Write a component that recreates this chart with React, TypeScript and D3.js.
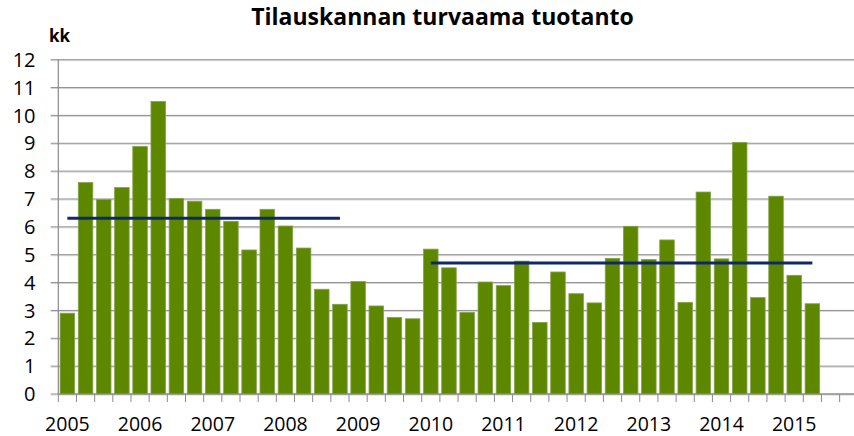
import React from "react";
import * as d3 from "d3";

const title = "Tilauskannan turvaama tuotanto";
const unitLabel = "kk";
const yearLabels = ["2005", "2006", "2007", "2008", "2009", "2010", "2011", "2012", "2013", "2014", "2015"];
const quarters = ["Q1", "Q2", "Q3", "Q4"];
// quarterly values 2005 Q1 .. 2015 Q2
const values = [
  2.9, 7.59, 6.98, 7.41,
  8.89, 10.5, 7.02, 6.92,
  6.63, 6.2, 5.17, 6.63,
  6.03, 5.24, 3.76, 3.22,
  4.04, 3.16, 2.75, 2.7,
  5.2, 4.53, 2.93, 4.02,
  3.89, 4.77, 2.57, 4.38,
  3.6, 3.27, 4.87, 6.02,
  4.83, 5.53, 3.29, 7.25,
  4.85, 9.03, 3.46, 7.1,
  4.26, 3.24,
];
// period averages (line series)
const avg1Value = 6.31;
const avg1Range = [0, 15];
const avg2Value = 4.7;
const avg2Range = [20, 41];
const yTicks = [0, 1, 2, 3, 4, 5, 6, 7, 8, 9, 10, 11, 12];

const categories: string[] = [];
yearLabels.forEach((y) => quarters.forEach((q) => categories.push(`${y} ${q}`)));

const W = 854;
const H = 436;
const left = 58.3;
const right = 857.8;
const top = 59.7;
const bottom = 394;
const font = "'Open Sans', 'DejaVu Sans', sans-serif";

export default function App() {
  const x = d3
    .scaleBand<string>()
    .domain(categories)
    .range([left, right])
    .paddingInner(0.2)
    .paddingOuter(0.1);
  const step = x.step();
  const y = d3.scaleLinear().domain([0, 12]).range([bottom, top]);

  const center = (i: number) => (x(categories[i]) as number) + x.bandwidth() / 2;

  const avgLine = (range: number[], v: number) => {
    const idx = d3.range(range[0], range[1] + 1);
    return d3
      .line<number>()
      .x((i) => center(i))
      .y(() => y(v))(idx) as string;
  };

  const boundaries = d3.range(0, categories.length + 1).map((i) => left + i * step);

  return (
    <svg
      width={W}
      height={H}
      style={{ position: "absolute", left: 0, top: 0, background: "#fff" }}
      fontFamily={font}
    >
      <rect x={0} y={0} width={W} height={H} fill="#fff" />
      {/* gridlines */}
      {yTicks.map((t) => (
        <g key={t}>
          <line x1={left - 7.6} x2={W} y1={y(t) + 1} y2={y(t) + 1} stroke="#d6d6d6" strokeWidth={1} />
          <line x1={left - 7.6} x2={W} y1={y(t)} y2={y(t)} stroke="#8f8f8f" strokeWidth={1} />
        </g>
      ))}
      {/* y axis */}
      <line x1={left} x2={left} y1={top} y2={bottom} stroke="#8a8a8a" strokeWidth={1.2} />
      {yTicks.map((t) => (
        <text key={t} x={35.5} y={y(t)} dy="0.36em" textAnchor="end" fontSize={20} fill="#000">
          {t}
        </text>
      ))}
      {/* x ticks */}
      {boundaries.map((bx, i) => (
        <line key={i} x1={bx} x2={bx} y1={bottom} y2={bottom + 8} stroke="#8a8a8a" strokeWidth={1} />
      ))}
      {/* bars */}
      {values.map((v, i) => (
        <rect
          key={i}
          x={x(categories[i])}
          y={y(v)}
          width={x.bandwidth()}
          height={y(0) - y(v)}
          fill="#5e8700"
          stroke="#83a34a"
          strokeWidth={0.8}
        />
      ))}
      {/* x axis line */}
      <line x1={left} x2={W} y1={bottom} y2={bottom} stroke="#8a8a8a" strokeWidth={1.2} />
      {/* average lines */}
      <path d={avgLine(avg1Range, avg1Value)} stroke="#10286a" strokeWidth={3} fill="none" />
      <path d={avgLine(avg2Range, avg2Value)} stroke="#10286a" strokeWidth={3} fill="none" />
      {/* x labels */}
      {yearLabels.map((yl, k) => (
        <text key={yl} x={center(k * 4)} y={430.5} textAnchor="middle" fontSize={19.5} fill="#000">
          {yl}
        </text>
      ))}
      {/* title */}
      <text x={442.5} y={25} textAnchor="middle" fontSize={23} fontWeight="bold" fill="#000">
        {title}
      </text>
      <text x={49} y={41.7} fontSize={17} fontWeight="bold" fill="#000">
        {unitLabel}
      </text>
    </svg>
  );
}
